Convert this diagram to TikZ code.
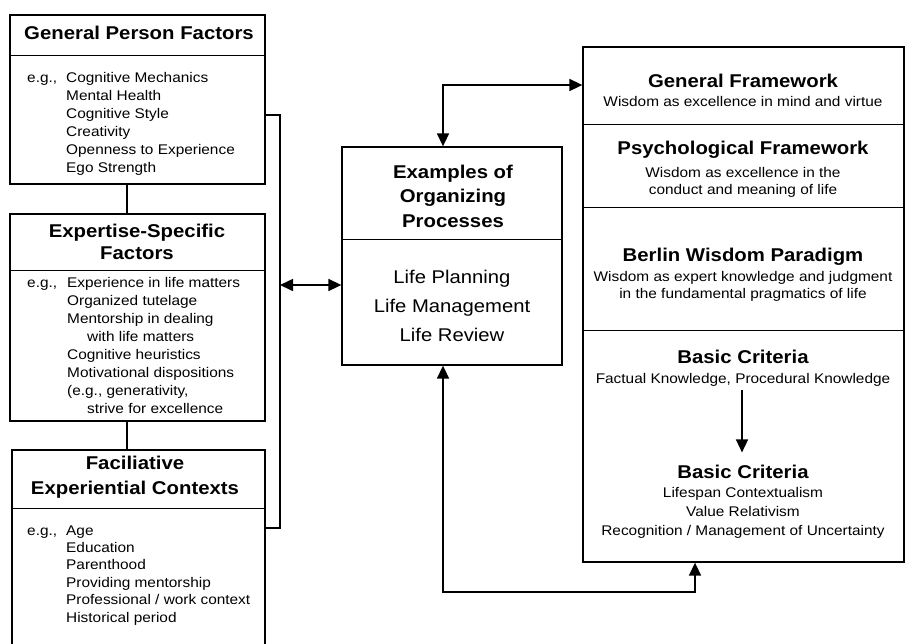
\documentclass[tikz,border=0pt]{standalone}
\usepackage{fontspec}
\setmainfont[FakeStretch=1.1]{Liberation Sans}
\usetikzlibrary{arrows.meta}

\newcommand\headfont{\fontsize{18.5}{22}\selectfont\bfseries}
\newcommand\bodyfont{\fontsize{14}{18}\selectfont}

\begin{document}
\begin{tikzpicture}[x=1pt,y=-1pt,
  >={Triangle[length=13pt,width=12pt]},
  box/.style={draw,line width=1.3pt,inner sep=0pt},
  rule/.style={line width=0.7pt},
  conn/.style={line width=1.6pt},
  head/.style={font=\headfont,anchor=base,inner sep=0pt,align=center},
  body/.style={font=\bodyfont,anchor=base,inner sep=0pt},
  items/.style={body,anchor=base west,align=left}]

\useasboundingbox (0,0) rectangle (915,643);

\begin{scope}
\node[box,minimum width=255pt,minimum height=169pt] (gpf) at (137.5,99.5) {};
\node[box,minimum width=255pt,minimum height=207pt] (esf) at (137.5,317.5) {};
\node[box,minimum width=253pt,minimum height=205pt] (fec) at (138.5,552.5) {};

\draw[rule] (gpf.west |- 0,55) -- (gpf.east |- 0,55);
\draw[rule] (esf.west |- 0,270) -- (esf.east |- 0,270);
\draw[rule] (fec.west |- 0,508) -- (fec.east |- 0,508);

% multi-line nodes sit on the baseline of their last line
\node[head] (gpf-t) at (139,39) {General Person Factors};
\node[items] (gpf-eg) at (27,82) {e.g.,};
\node[items] (gpf-l) at (66,172) {Cognitive Mechanics\\Mental Health\\Cognitive Style\\Creativity\\Openness to Experience\\Ego Strength};

\node[head,font=\fontsize{18.5}{21.7}\selectfont\bfseries] (esf-t) at (137,259) {Expertise-Specific\\Factors};
\node[items] (esf-eg) at (27,287) {e.g.,};
\node[items] (esf-l) at (67,413) {Experience in life matters\\Organized tutelage\\Mentorship in dealing\\\hspace*{20pt}with life matters\\Cognitive heuristics\\Motivational dispositions\\(e.g., generativity,\\\hspace*{20pt}strive for excellence};

\node[head,font=\fontsize{18.5}{24.7}\selectfont\bfseries] (fec-t) at (135,494) {Faciliative\\Experiential Contexts};
\node[items] (fec-eg) at (27,535) {e.g.,};
\node[items,font=\fontsize{14}{17.4}\selectfont] (fec-l) at (66,622) {Age\\Education\\Parenthood\\Providing mentorship\\Professional / work context\\Historical period};

\draw[conn] (gpf.south -| 127,0) -- (esf.north -| 127,0);
\draw[conn] (esf.south -| 127,0) -- (fec.north -| 127,0);
\end{scope}

\begin{scope}
\node[box,minimum width=220pt,minimum height=218pt] (eop) at (452,256) {};
\draw[rule] (eop.west |- 0,239) -- (eop.east |- 0,239);
\node[head,font=\fontsize{18.5}{24.5}\selectfont\bfseries] (eop-t) at (453,227) {Examples of\\Organizing\\Processes};
\node[head,font=\fontsize{18.4}{29}\selectfont] (eop-l) at (452,341) {Life Planning\\Life Management\\Life Review};
\end{scope}

\begin{scope}
\node[box,minimum width=321pt,minimum height=515pt] (wis) at (743.5,304.5) {};
\draw[rule] (wis.west |- 0,124) -- (wis.east |- 0,124);
\draw[rule] (wis.west |- 0,207) -- (wis.east |- 0,207);
\draw[rule] (wis.west |- 0,330) -- (wis.east |- 0,330);

\node[head] (gen-t) at (743,87) {General Framework};
\node[body] (gen-s) at (743,106) {Wisdom as excellence in mind and virtue};
\node[head] (psy-t) at (743,154) {Psychological Framework};
\node[body,align=center,font=\fontsize{14}{16.7}\selectfont] (psy-s) at (743,194) {Wisdom as excellence in the\\conduct and meaning of life};
\node[head] (ber-t) at (743,261) {Berlin Wisdom Paradigm};
\node[body,align=center,font=\fontsize{14}{16.5}\selectfont] (ber-s) at (743,298) {Wisdom as expert knowledge and judgment\\in the fundamental pragmatics of life};
\node[head] (bc1-t) at (743,363) {Basic Criteria};
\node[body] (bc1-s) at (743,383) {Factual Knowledge, Procedural Knowledge};
\node[head] (bc2-t) at (743,478) {Basic Criteria};
\node[body,align=center,font=\fontsize{14}{19}\selectfont] (bc2-s) at (743,535) {Lifespan Contextualism\\Value Relativism\\Recognition / Management of Uncertainty};

\draw[conn,->,shorten <=4pt,shorten >=12pt] (bc1-s.south -| 742,0) -- (bc2-t.north -| 742,0);
\end{scope}

\coordinate (brk) at (280,285);
\coordinate (top) at (443,85);
\coordinate (bl) at (443,592);
\coordinate (br) at (695,592);

\draw[conn] (gpf.east |- 0,115) -| (brk) |- (fec.east |- 0,528);
\draw[conn,<->] (brk) -- (eop.west |- brk);
\draw[conn,<->] (top |- eop.north) -- (top) -- (wis.west |- top);
\draw[conn,<->] (bl |- eop.south) -- (bl) -- (br) -- (br |- wis.south);

\end{tikzpicture}
\end{document}
